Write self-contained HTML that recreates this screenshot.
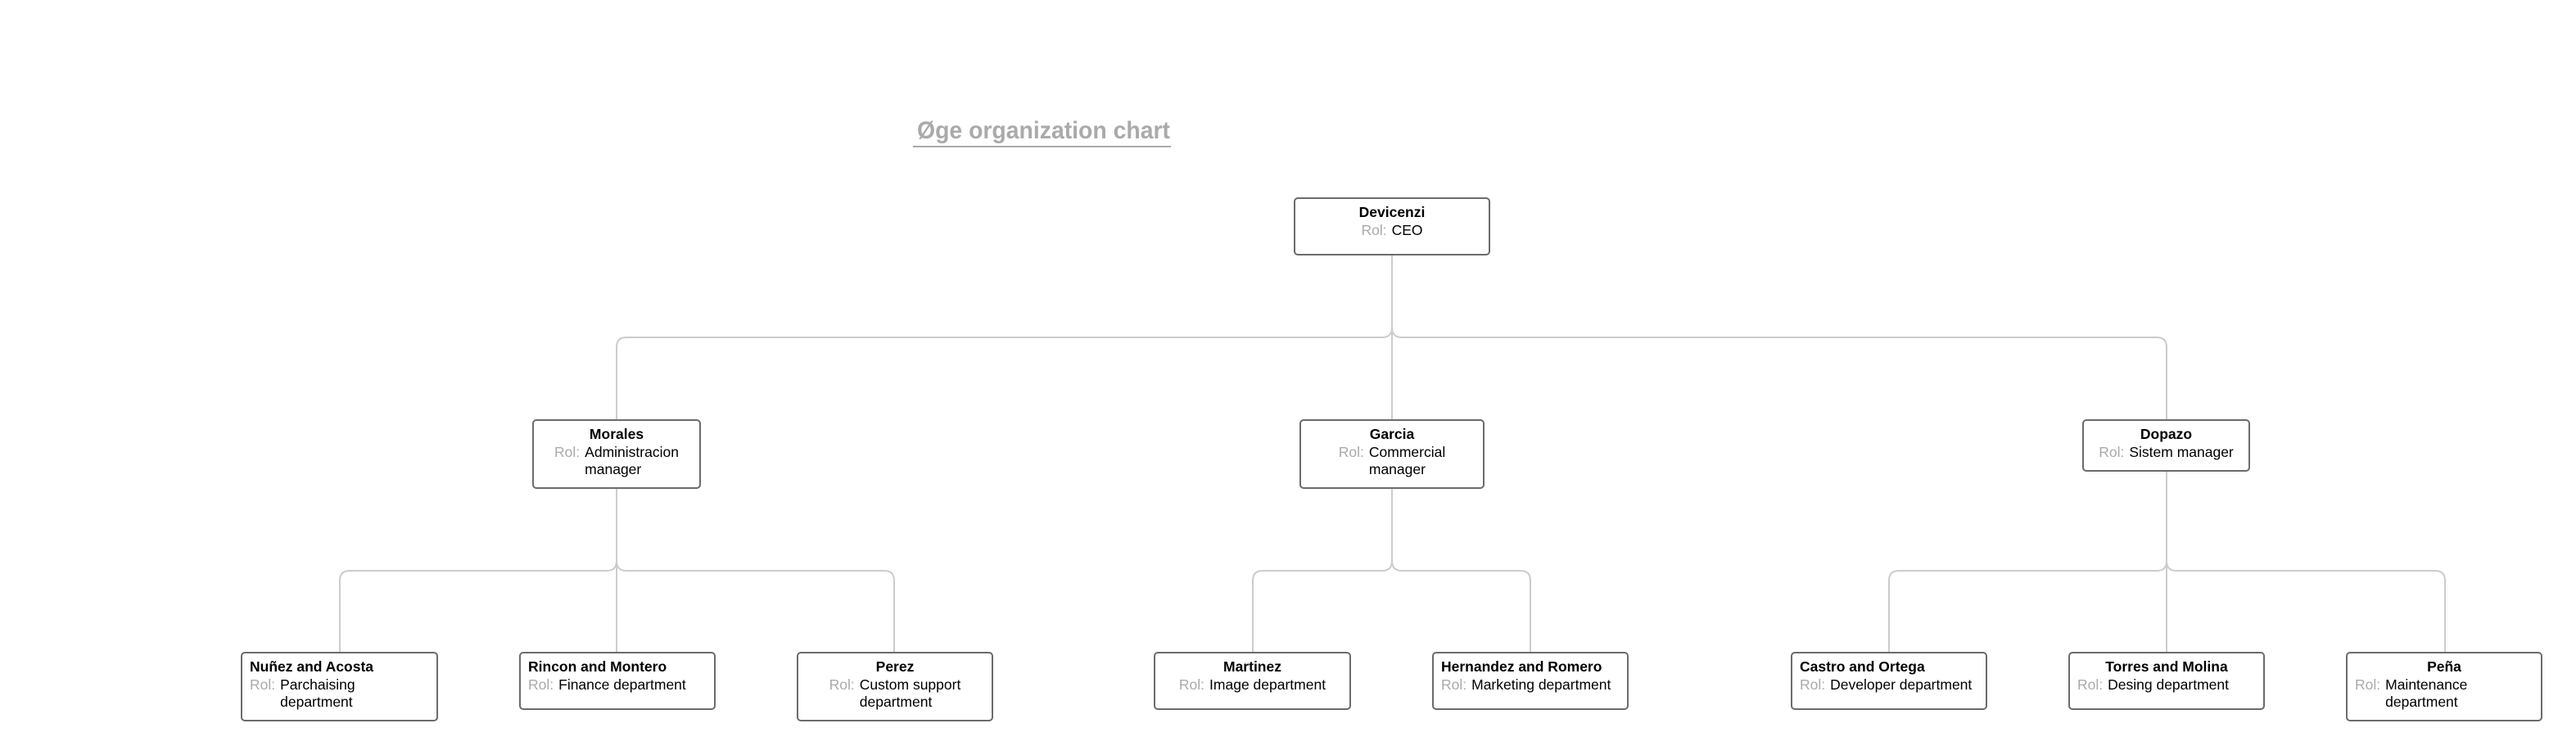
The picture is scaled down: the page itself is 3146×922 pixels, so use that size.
<!DOCTYPE html>
<html><head><meta charset="utf-8"><style>
html,body{margin:0;padding:0;background:#fff;}
body{width:3146px;height:922px;position:relative;overflow:hidden;font-family:"Liberation Sans",Arial,sans-serif;}
.b{position:absolute;box-sizing:border-box;border:2px solid #6b6b6b;border-radius:5px;background:#fff;padding:6px 9px 0 9px;font-size:17.5px;line-height:21.5px;color:#000;}
.n{font-weight:bold;}
.r{display:flex;}
.l{color:#aaa;margin-right:6px;white-space:nowrap;}
.v{white-space:nowrap;}
.c .n{text-align:center;}
.c .r{justify-content:center;}
svg{position:absolute;left:0;top:0;}
</style></head><body>
<svg width="3146" height="922" viewBox="0 0 3146 922">
<g fill="none" stroke="#cccccc" stroke-width="2">
<path d="M1700 311 V400 Q1700 412 1688 412 H765 Q753 412 753 424 V512"/>
<path d="M1700 400 Q1700 412 1712 412 H2634 Q2646 412 2646 424 V512"/>
<path d="M1700 400 V512"/>
<path d="M753 596 V685 Q753 697 741 697 H427 Q415 697 415 709 V796"/>
<path d="M753 685 Q753 697 765 697 H1080 Q1092 697 1092 709 V796"/>
<path d="M753 685 V796"/>
<path d="M1700 596 V685 Q1700 697 1688 697 H1542 Q1530 697 1530 709 V796"/>
<path d="M1700 685 Q1700 697 1712 697 H1857 Q1869 697 1869 709 V796"/>
<path d="M2646 576 V685 Q2646 697 2634 697 H2319 Q2307 697 2307 709 V796"/>
<path d="M2646 685 Q2646 697 2658 697 H2974 Q2986 697 2986 709 V796"/>
<path d="M2646 685 V796"/>
</g>
<text x="1120" y="169" font-family="Liberation Sans, Arial, sans-serif" font-weight="bold" font-size="30" fill="#aaaaaa" textLength="309" lengthAdjust="spacingAndGlyphs">Øge organization chart</text>
<line x1="1115" y1="179" x2="1430" y2="179" stroke="#aaaaaa" stroke-width="2"/>
</svg>

<div class="b c" style="left:1580px;top:241px;width:240px;height:71px;"><div class="n">Devicenzi</div><div class="r"><span class="l">Rol:</span><span class="v">CEO</span></div></div>

<div class="b c" style="left:650px;top:512px;width:206px;height:85px;"><div class="n">Morales</div><div class="r"><span class="l">Rol:</span><span class="v">Administracion<br>manager</span></div></div>
<div class="b c" style="left:1587px;top:512px;width:226px;height:85px;"><div class="n">Garcia</div><div class="r"><span class="l">Rol:</span><span class="v">Commercial<br>manager</span></div></div>
<div class="b c" style="left:2543px;top:512px;width:205px;height:64px;"><div class="n">Dopazo</div><div class="r"><span class="l">Rol:</span><span class="v">Sistem manager</span></div></div>

<div class="b" style="left:294px;top:796px;width:241px;height:85px;"><div class="n">Nuñez and Acosta</div><div class="r"><span class="l">Rol:</span><span class="v">Parchaising<br>department</span></div></div>
<div class="b" style="left:634px;top:796px;width:240px;height:71px;"><div class="n">Rincon and Montero</div><div class="r"><span class="l">Rol:</span><span class="v">Finance department</span></div></div>
<div class="b c" style="left:973px;top:796px;width:240px;height:85px;"><div class="n">Perez</div><div class="r"><span class="l">Rol:</span><span class="v">Custom support<br>department</span></div></div>

<div class="b c" style="left:1409px;top:796px;width:241px;height:71px;"><div class="n">Martinez</div><div class="r"><span class="l">Rol:</span><span class="v">Image department</span></div></div>
<div class="b" style="left:1749px;top:796px;width:240px;height:71px;"><div class="n">Hernandez and Romero</div><div class="r"><span class="l">Rol:</span><span class="v">Marketing department</span></div></div>

<div class="b" style="left:2187px;top:796px;width:240px;height:71px;"><div class="n">Castro and Ortega</div><div class="r"><span class="l">Rol:</span><span class="v">Developer department</span></div></div>
<div class="b" style="left:2526px;top:796px;width:240px;height:71px;"><div class="n" style="text-align:center;">Torres and Molina</div><div class="r"><span class="l">Rol:</span><span class="v">Desing department</span></div></div>
<div class="b" style="left:2865px;top:796px;width:240px;height:85px;"><div class="n" style="text-align:center;">Peña</div><div class="r"><span class="l">Rol:</span><span class="v">Maintenance<br>department</span></div></div>
</body></html>
